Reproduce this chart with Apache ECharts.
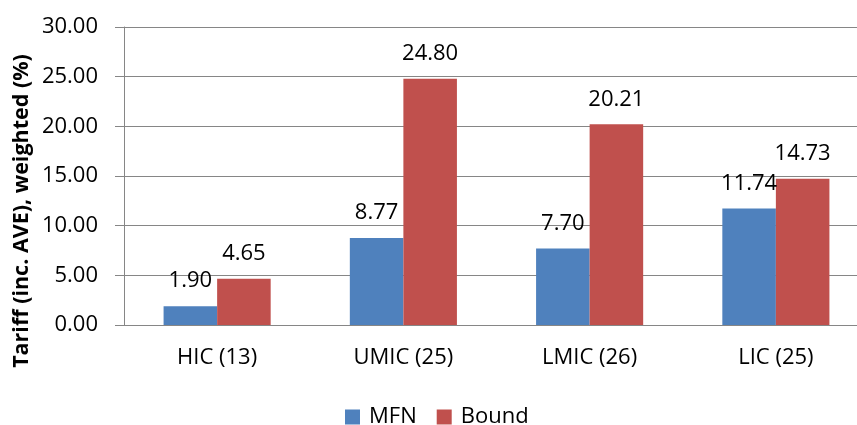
<!DOCTYPE html>
<html>
<head>
<meta charset="utf-8">
<script src="https://cdn.jsdelivr.net/npm/echarts@6/dist/echarts.min.js"></script>
<style>
  html, body { margin: 0; padding: 0; background: #ffffff; }
  #chart { width: 857px; height: 425px; }
</style>
</head>
<body>
<div id="chart"></div>
<script>
// Income groups (number of countries in brackets)
var categories = ['HIC (13)', 'UMIC (25)', 'LMIC (26)', 'LIC (25)'];
// Weighted tariffs, including ad valorem equivalents, in percent
var mfnValues = [1.90, 8.77, 7.70, 11.74];
var boundValues = [4.65, 24.80, 20.21, 14.73];
var seriesNames = ['MFN', 'Bound'];
var yAxisTitle = 'Tariff (inc. AVE), weighted (%)';

var FONT = '"Open Sans", "Liberation Sans", sans-serif';
var AXIS_GREY = '#868686';
var TEXT_SIZE = 22;

var chart = echarts.init(document.getElementById('chart'), null, { renderer: 'canvas' });

var valueLabel = {
  show: true,
  position: 'top',
  distance: 14,
  color: '#000',
  fontFamily: FONT,
  fontSize: TEXT_SIZE,
  formatter: function (p) { return p.value.toFixed(2); }
};

chart.setOption({
  animation: false,
  backgroundColor: '#ffffff',
  // the plot runs slightly past the right edge of the canvas
  grid: { left: 124, top: 27, bottom: 100, width: 745, containLabel: false, outerBoundsMode: 'none' },
  legend: {
    data: seriesNames,
    left: 340,
    top: 401,
    itemWidth: 15,
    itemHeight: 15,
    itemGap: 20,
    icon: 'rect',
    textStyle: { fontFamily: FONT, fontSize: TEXT_SIZE, color: '#000', padding: [0, 0, 0, 4] }
  },
  xAxis: {
    type: 'category',
    data: categories,
    axisLine: { show: true, lineStyle: { color: AXIS_GREY, width: 1 } },
    axisTick: { show: false },
    axisLabel: { fontFamily: FONT, fontSize: TEXT_SIZE, color: '#000', margin: 22 }
  },
  yAxis: {
    type: 'value',
    min: 0,
    max: 30,
    interval: 5,
    axisLine: { show: true, lineStyle: { color: AXIS_GREY, width: 1 } },
    axisTick: { show: true, length: 9, lineStyle: { color: AXIS_GREY } },
    splitLine: { show: true, lineStyle: { color: AXIS_GREY, width: 1 } },
    axisLabel: {
      fontFamily: FONT, fontSize: TEXT_SIZE, color: '#000', margin: 26,
      formatter: function (v) { return v.toFixed(2); }
    }
  },
  graphic: [{
    type: 'text',
    x: 22,
    y: 211,
    rotation: Math.PI / 2,
    style: {
      text: yAxisTitle,
      fontFamily: FONT,
      fontWeight: 'bold',
      fontSize: 21.5,
      fill: '#000',
      align: 'center',
      verticalAlign: 'middle'
    }
  }],
  series: [
    {
      name: seriesNames[0],
      type: 'bar',
      data: mfnValues,
      barGap: '0%',
      barCategoryGap: '42.5%',
      itemStyle: { color: '#4F81BD' },
      label: valueLabel
    },
    {
      name: seriesNames[1],
      type: 'bar',
      data: boundValues,
      barGap: '0%',
      barCategoryGap: '42.5%',
      itemStyle: { color: '#C0504D' },
      label: valueLabel
    }
  ]
});
</script>
</body>
</html>
